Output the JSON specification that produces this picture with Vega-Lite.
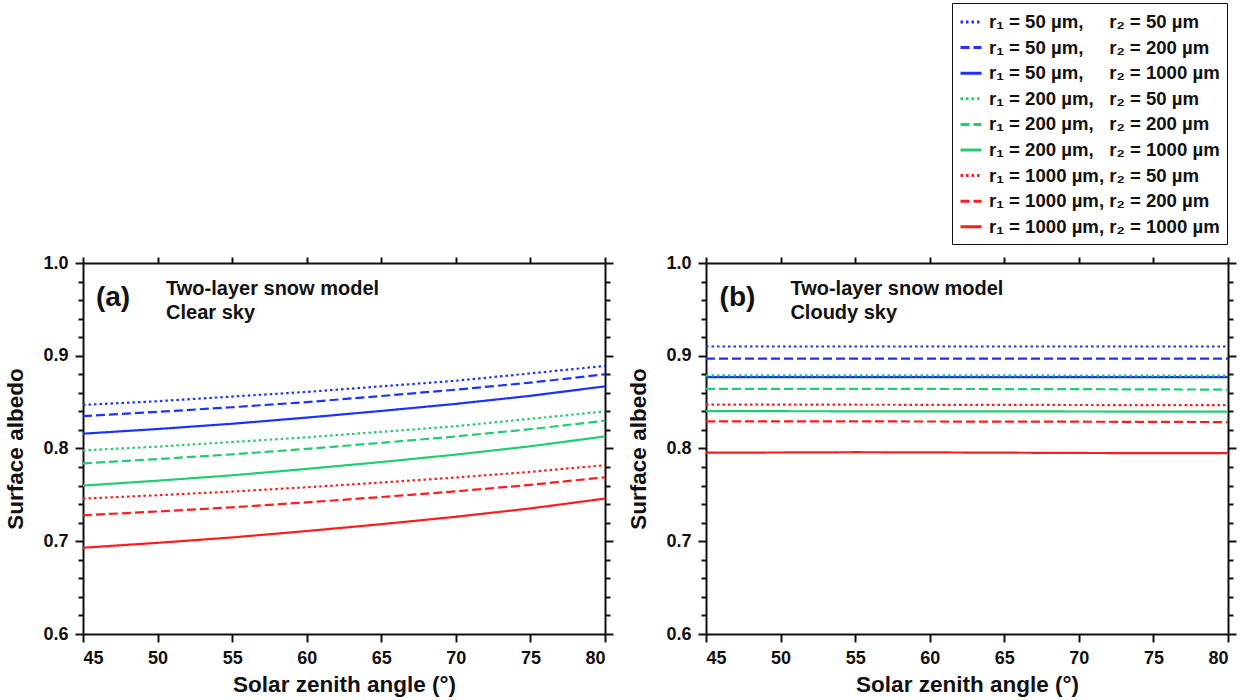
{
  "$schema": "https://vega.github.io/schema/vega-lite/v6.json",
  "padding": {"left": 4, "top": 2, "right": 3, "bottom": 4},
  "background": "white",
  "config": {
    "font": "Liberation Sans",
    "view": {"stroke": null},
    "axis": {
      "grid": false,
      "domainColor": "#111",
      "domainWidth": 2,
      "tickColor": "#111",
      "tickWidth": 2,
      "labelColor": "#111",
      "titleColor": "#111",
      "labelFont": "Liberation Sans",
      "titleFont": "Liberation Sans",
      "labelFontSize": 18,
      "labelFontWeight": "bold",
      "titleFontSize": 22.5,
      "titleFontWeight": "bold"
    },
    "legend": {
      "labelFont": "Liberation Sans"
    }
  },
  "datasets": {
    "series": [
      {"k": "s1", "label": "r₁ = 50 µm,\u00a0\u00a0\u00a0\u00a0\u00a0r₂ = 50 µm"},
      {"k": "s2", "label": "r₁ = 50 µm,\u00a0\u00a0\u00a0\u00a0\u00a0r₂ = 200 µm"},
      {"k": "s3", "label": "r₁ = 50 µm,\u00a0\u00a0\u00a0\u00a0\u00a0r₂ = 1000 µm"},
      {"k": "s4", "label": "r₁ = 200 µm,\u00a0\u00a0\u00a0r₂ = 50 µm"},
      {"k": "s5", "label": "r₁ = 200 µm,\u00a0\u00a0\u00a0r₂ = 200 µm"},
      {"k": "s6", "label": "r₁ = 200 µm,\u00a0\u00a0\u00a0r₂ = 1000 µm"},
      {"k": "s7", "label": "r₁ = 1000 µm,\u00a0r₂ = 50 µm"},
      {"k": "s8", "label": "r₁ = 1000 µm,\u00a0r₂ = 200 µm"},
      {"k": "s9", "label": "r₁ = 1000 µm,\u00a0r₂ = 1000 µm"}
    ],
    "notes": [
      {"p": "a", "kind": "tag", "x": 45.87, "y": 0.9623, "t": "(a)"},
      {"p": "a", "kind": "line", "x": 50.57, "y": 0.972, "t": "Two-layer snow model"},
      {"p": "a", "kind": "line", "x": 50.57, "y": 0.9461, "t": "Clear sky"},
      {"p": "b", "kind": "tag", "x": 45.91, "y": 0.9623, "t": "(b)"},
      {"p": "b", "kind": "line", "x": 50.66, "y": 0.972, "t": "Two-layer snow model"},
      {"p": "b", "kind": "line", "x": 50.66, "y": 0.9461, "t": "Cloudy sky"}
    ],
    "curves": [
      {"p": "a", "k": "s1", "x": 45, "y": 0.847}, {"p": "a", "k": "s1", "x": 50, "y": 0.851}, {"p": "a", "k": "s1", "x": 55, "y": 0.856}, {"p": "a", "k": "s1", "x": 60, "y": 0.861}, {"p": "a", "k": "s1", "x": 65, "y": 0.867}, {"p": "a", "k": "s1", "x": 70, "y": 0.873}, {"p": "a", "k": "s1", "x": 75, "y": 0.881}, {"p": "a", "k": "s1", "x": 80, "y": 0.889},
      {"p": "a", "k": "s2", "x": 45, "y": 0.835}, {"p": "a", "k": "s2", "x": 50, "y": 0.8395}, {"p": "a", "k": "s2", "x": 55, "y": 0.8445}, {"p": "a", "k": "s2", "x": 60, "y": 0.850}, {"p": "a", "k": "s2", "x": 65, "y": 0.8566}, {"p": "a", "k": "s2", "x": 70, "y": 0.8634}, {"p": "a", "k": "s2", "x": 75, "y": 0.871}, {"p": "a", "k": "s2", "x": 80, "y": 0.880},
      {"p": "a", "k": "s3", "x": 45, "y": 0.816}, {"p": "a", "k": "s3", "x": 50, "y": 0.821}, {"p": "a", "k": "s3", "x": 55, "y": 0.8267}, {"p": "a", "k": "s3", "x": 60, "y": 0.8333}, {"p": "a", "k": "s3", "x": 65, "y": 0.8405}, {"p": "a", "k": "s3", "x": 70, "y": 0.8481}, {"p": "a", "k": "s3", "x": 75, "y": 0.8568}, {"p": "a", "k": "s3", "x": 80, "y": 0.867},
      {"p": "a", "k": "s4", "x": 45, "y": 0.798}, {"p": "a", "k": "s4", "x": 50, "y": 0.802}, {"p": "a", "k": "s4", "x": 55, "y": 0.807}, {"p": "a", "k": "s4", "x": 60, "y": 0.812}, {"p": "a", "k": "s4", "x": 65, "y": 0.818}, {"p": "a", "k": "s4", "x": 70, "y": 0.824}, {"p": "a", "k": "s4", "x": 75, "y": 0.832}, {"p": "a", "k": "s4", "x": 80, "y": 0.840},
      {"p": "a", "k": "s5", "x": 45, "y": 0.784}, {"p": "a", "k": "s5", "x": 50, "y": 0.7886}, {"p": "a", "k": "s5", "x": 55, "y": 0.7937}, {"p": "a", "k": "s5", "x": 60, "y": 0.7996}, {"p": "a", "k": "s5", "x": 65, "y": 0.8061}, {"p": "a", "k": "s5", "x": 70, "y": 0.813}, {"p": "a", "k": "s5", "x": 75, "y": 0.8208}, {"p": "a", "k": "s5", "x": 80, "y": 0.830},
      {"p": "a", "k": "s6", "x": 45, "y": 0.760}, {"p": "a", "k": "s6", "x": 50, "y": 0.7653}, {"p": "a", "k": "s6", "x": 55, "y": 0.7711}, {"p": "a", "k": "s6", "x": 60, "y": 0.778}, {"p": "a", "k": "s6", "x": 65, "y": 0.7854}, {"p": "a", "k": "s6", "x": 70, "y": 0.7934}, {"p": "a", "k": "s6", "x": 75, "y": 0.8024}, {"p": "a", "k": "s6", "x": 80, "y": 0.813},
      {"p": "a", "k": "s7", "x": 45, "y": 0.746}, {"p": "a", "k": "s7", "x": 50, "y": 0.7496}, {"p": "a", "k": "s7", "x": 55, "y": 0.7536}, {"p": "a", "k": "s7", "x": 60, "y": 0.7582}, {"p": "a", "k": "s7", "x": 65, "y": 0.7633}, {"p": "a", "k": "s7", "x": 70, "y": 0.7687}, {"p": "a", "k": "s7", "x": 75, "y": 0.7748}, {"p": "a", "k": "s7", "x": 80, "y": 0.782},
      {"p": "a", "k": "s8", "x": 45, "y": 0.728}, {"p": "a", "k": "s8", "x": 50, "y": 0.7321}, {"p": "a", "k": "s8", "x": 55, "y": 0.7366}, {"p": "a", "k": "s8", "x": 60, "y": 0.7419}, {"p": "a", "k": "s8", "x": 65, "y": 0.7477}, {"p": "a", "k": "s8", "x": 70, "y": 0.7538}, {"p": "a", "k": "s8", "x": 75, "y": 0.7608}, {"p": "a", "k": "s8", "x": 80, "y": 0.769},
      {"p": "a", "k": "s9", "x": 45, "y": 0.693}, {"p": "a", "k": "s9", "x": 50, "y": 0.6983}, {"p": "a", "k": "s9", "x": 55, "y": 0.7041}, {"p": "a", "k": "s9", "x": 60, "y": 0.711}, {"p": "a", "k": "s9", "x": 65, "y": 0.7184}, {"p": "a", "k": "s9", "x": 70, "y": 0.7264}, {"p": "a", "k": "s9", "x": 75, "y": 0.7354}, {"p": "a", "k": "s9", "x": 80, "y": 0.746},
      {"p": "b", "k": "s1", "x": 45, "y": 0.910}, {"p": "b", "k": "s1", "x": 50, "y": 0.910}, {"p": "b", "k": "s1", "x": 55, "y": 0.910}, {"p": "b", "k": "s1", "x": 60, "y": 0.910}, {"p": "b", "k": "s1", "x": 65, "y": 0.910}, {"p": "b", "k": "s1", "x": 70, "y": 0.910}, {"p": "b", "k": "s1", "x": 75, "y": 0.910}, {"p": "b", "k": "s1", "x": 80, "y": 0.910},
      {"p": "b", "k": "s2", "x": 45, "y": 0.897}, {"p": "b", "k": "s2", "x": 50, "y": 0.897}, {"p": "b", "k": "s2", "x": 55, "y": 0.897}, {"p": "b", "k": "s2", "x": 60, "y": 0.897}, {"p": "b", "k": "s2", "x": 65, "y": 0.897}, {"p": "b", "k": "s2", "x": 70, "y": 0.897}, {"p": "b", "k": "s2", "x": 75, "y": 0.897}, {"p": "b", "k": "s2", "x": 80, "y": 0.897},
      {"p": "b", "k": "s3", "x": 45, "y": 0.877}, {"p": "b", "k": "s3", "x": 50, "y": 0.877}, {"p": "b", "k": "s3", "x": 55, "y": 0.877}, {"p": "b", "k": "s3", "x": 60, "y": 0.877}, {"p": "b", "k": "s3", "x": 65, "y": 0.877}, {"p": "b", "k": "s3", "x": 70, "y": 0.877}, {"p": "b", "k": "s3", "x": 75, "y": 0.877}, {"p": "b", "k": "s3", "x": 80, "y": 0.877},
      {"p": "b", "k": "s4", "x": 45, "y": 0.8788}, {"p": "b", "k": "s4", "x": 50, "y": 0.8788}, {"p": "b", "k": "s4", "x": 55, "y": 0.8788}, {"p": "b", "k": "s4", "x": 60, "y": 0.8788}, {"p": "b", "k": "s4", "x": 65, "y": 0.8788}, {"p": "b", "k": "s4", "x": 70, "y": 0.8787}, {"p": "b", "k": "s4", "x": 75, "y": 0.8786}, {"p": "b", "k": "s4", "x": 80, "y": 0.8785},
      {"p": "b", "k": "s5", "x": 45, "y": 0.8643}, {"p": "b", "k": "s5", "x": 50, "y": 0.8643}, {"p": "b", "k": "s5", "x": 55, "y": 0.8643}, {"p": "b", "k": "s5", "x": 60, "y": 0.8642}, {"p": "b", "k": "s5", "x": 65, "y": 0.8641}, {"p": "b", "k": "s5", "x": 70, "y": 0.864}, {"p": "b", "k": "s5", "x": 75, "y": 0.8637}, {"p": "b", "k": "s5", "x": 80, "y": 0.8635},
      {"p": "b", "k": "s6", "x": 45, "y": 0.8402}, {"p": "b", "k": "s6", "x": 50, "y": 0.8402}, {"p": "b", "k": "s6", "x": 55, "y": 0.8401}, {"p": "b", "k": "s6", "x": 60, "y": 0.8401}, {"p": "b", "k": "s6", "x": 65, "y": 0.84}, {"p": "b", "k": "s6", "x": 70, "y": 0.8399}, {"p": "b", "k": "s6", "x": 75, "y": 0.8398}, {"p": "b", "k": "s6", "x": 80, "y": 0.8397},
      {"p": "b", "k": "s7", "x": 45, "y": 0.8472}, {"p": "b", "k": "s7", "x": 50, "y": 0.8472}, {"p": "b", "k": "s7", "x": 55, "y": 0.8472}, {"p": "b", "k": "s7", "x": 60, "y": 0.8471}, {"p": "b", "k": "s7", "x": 65, "y": 0.847}, {"p": "b", "k": "s7", "x": 70, "y": 0.8469}, {"p": "b", "k": "s7", "x": 75, "y": 0.8468}, {"p": "b", "k": "s7", "x": 80, "y": 0.8467},
      {"p": "b", "k": "s8", "x": 45, "y": 0.8292}, {"p": "b", "k": "s8", "x": 50, "y": 0.8292}, {"p": "b", "k": "s8", "x": 55, "y": 0.8292}, {"p": "b", "k": "s8", "x": 60, "y": 0.8291}, {"p": "b", "k": "s8", "x": 65, "y": 0.829}, {"p": "b", "k": "s8", "x": 70, "y": 0.8289}, {"p": "b", "k": "s8", "x": 75, "y": 0.8287}, {"p": "b", "k": "s8", "x": 80, "y": 0.8285},
      {"p": "b", "k": "s9", "x": 45, "y": 0.7955}, {"p": "b", "k": "s9", "x": 50, "y": 0.7957}, {"p": "b", "k": "s9", "x": 55, "y": 0.796}, {"p": "b", "k": "s9", "x": 60, "y": 0.7958}, {"p": "b", "k": "s9", "x": 65, "y": 0.7955}, {"p": "b", "k": "s9", "x": 70, "y": 0.7952}, {"p": "b", "k": "s9", "x": 75, "y": 0.795}, {"p": "b", "k": "s9", "x": 80, "y": 0.795}
    ]
  },
  "spacing": 13,
  "resolve": {"scale": {"color": "shared", "strokeDash": "shared"}, "legend": {"color": "shared", "strokeDash": "shared"}},
  "hconcat": [
    {
      "width": 522,
      "height": 371,
      "layer": [
        {
          "data": {"name": "curves"},
          "transform": [
            {"filter": "datum.p == 'a'"},
            {"lookup": "k", "from": {"data": {"name": "series"}, "key": "k", "fields": ["label"]}}
          ],
          "layer": [
            {
              "mark": {"type": "line", "strokeWidth": 2.2},
              "encoding": {
                "x": {"field": "x", "type": "quantitative", "scale": {"domain": [45, 80], "nice": false, "zero": false},
                      "axis": {"orient": "bottom", "values": [45, 50, 55, 60, 65, 70, 75, 80], "title": "Solar zenith angle (°)", "tickSize": 8, "labelPadding": 7, "titlePadding": 6}},
                "y": {"field": "y", "type": "quantitative", "scale": {"domain": [0.6, 1.0], "nice": false, "zero": false},
                      "axis": {"orient": "left", "values": [0.6, 0.7, 0.8, 0.9, 1.0], "format": ".1f", "title": "Surface albedo", "tickSize": 8, "labelPadding": 7, "titlePadding": 15}},
                "color": {"field": "label", "type": "nominal",
                          "scale": {"domain": ["r₁ = 50 µm,\u00a0\u00a0\u00a0\u00a0\u00a0r₂ = 50 µm", "r₁ = 50 µm,\u00a0\u00a0\u00a0\u00a0\u00a0r₂ = 200 µm", "r₁ = 50 µm,\u00a0\u00a0\u00a0\u00a0\u00a0r₂ = 1000 µm", "r₁ = 200 µm,\u00a0\u00a0\u00a0r₂ = 50 µm", "r₁ = 200 µm,\u00a0\u00a0\u00a0r₂ = 200 µm", "r₁ = 200 µm,\u00a0\u00a0\u00a0r₂ = 1000 µm", "r₁ = 1000 µm,\u00a0r₂ = 50 µm", "r₁ = 1000 µm,\u00a0r₂ = 200 µm", "r₁ = 1000 µm,\u00a0r₂ = 1000 µm"],
                                    "range": ["#1a33ff", "#1a33ff", "#1a33ff", "#22cc70", "#22cc70", "#22cc70", "#ff1c1c", "#ff1c1c", "#ff1c1c"]},
                          "legend": {"orient": "none", "legendX": 869, "legendY": -260, "title": null, "symbolType": "stroke", "symbolStrokeWidth": 3, "symbolSize": 441, "labelFontSize": 18.6, "labelFontWeight": "bold", "labelColor": "#111", "labelLimit": 400, "rowPadding": 3.6, "padding": 7, "strokeColor": "#111", "fillColor": "white", "labelOffset": 6}},
                "strokeDash": {"field": "label", "type": "nominal",
                          "scale": {"domain": ["r₁ = 50 µm,\u00a0\u00a0\u00a0\u00a0\u00a0r₂ = 50 µm", "r₁ = 50 µm,\u00a0\u00a0\u00a0\u00a0\u00a0r₂ = 200 µm", "r₁ = 50 µm,\u00a0\u00a0\u00a0\u00a0\u00a0r₂ = 1000 µm", "r₁ = 200 µm,\u00a0\u00a0\u00a0r₂ = 50 µm", "r₁ = 200 µm,\u00a0\u00a0\u00a0r₂ = 200 µm", "r₁ = 200 µm,\u00a0\u00a0\u00a0r₂ = 1000 µm", "r₁ = 1000 µm,\u00a0r₂ = 50 µm", "r₁ = 1000 µm,\u00a0r₂ = 200 µm", "r₁ = 1000 µm,\u00a0r₂ = 1000 µm"],
                                    "range": [[2.5, 3], [9, 4], [1, 0], [2.5, 3], [9, 4], [1, 0], [2.5, 3], [9, 4], [1, 0]]},
                          "legend": {"orient": "none", "legendX": 869, "legendY": -260, "title": null, "symbolType": "stroke", "symbolStrokeWidth": 3, "symbolSize": 441, "labelFontSize": 18.6, "labelFontWeight": "bold", "labelColor": "#111", "labelLimit": 400, "rowPadding": 3.6, "padding": 7, "strokeColor": "#111", "fillColor": "white", "labelOffset": 6}}
              }
            },
            {
              "mark": {"type": "line", "opacity": 0},
              "encoding": {
                "detail": {"field": "k"},
                "x": {"field": "x", "type": "quantitative", "axis": {"orient": "top", "values": [45, 50, 55, 60, 65, 70, 75, 80], "labels": false, "title": null, "tickSize": 6}},
                "y": {"field": "y", "type": "quantitative", "axis": {"orient": "left", "values": [0.62, 0.64, 0.66, 0.68, 0.72, 0.74, 0.76, 0.78, 0.82, 0.84, 0.86, 0.88, 0.92, 0.94, 0.96, 0.98], "labels": false, "title": null, "domain": false, "tickSize": 5}}
              }
            },
            {
              "mark": {"type": "line", "opacity": 0},
              "encoding": {
                "detail": {"field": "k"},
                "x": {"field": "x", "type": "quantitative", "axis": null},
                "y": {"field": "y", "type": "quantitative", "axis": {"orient": "right", "values": [0.6, 0.7, 0.8, 0.9, 1.0], "labels": false, "title": null, "tickSize": 8}}
              }
            },
            {
              "mark": {"type": "line", "opacity": 0},
              "encoding": {
                "detail": {"field": "k"},
                "x": {"field": "x", "type": "quantitative", "axis": null},
                "y": {"field": "y", "type": "quantitative", "axis": {"orient": "right", "values": [0.62, 0.64, 0.66, 0.68, 0.72, 0.74, 0.76, 0.78, 0.82, 0.84, 0.86, 0.88, 0.92, 0.94, 0.96, 0.98], "labels": false, "title": null, "domain": false, "tickSize": 5}}
              }
            }
          ],
          "resolve": {"axis": {"x": "independent", "y": "independent"}}
        },
        {
          "data": {"name": "notes"},
          "transform": [{"filter": "datum.p == 'a' && datum.kind == 'tag'"}],
          "mark": {"type": "text", "align": "left", "baseline": "middle", "fontSize": 28, "fontWeight": "bold", "color": "#111"},
          "encoding": {
            "x": {"field": "x", "type": "quantitative", "axis": null},
            "y": {"field": "y", "type": "quantitative", "axis": null},
            "text": {"field": "t"}
          }
        },
        {
          "data": {"name": "notes"},
          "transform": [{"filter": "datum.p == 'a' && datum.kind == 'line'"}],
          "mark": {"type": "text", "align": "left", "baseline": "middle", "fontSize": 20, "fontWeight": "bold", "color": "#111"},
          "encoding": {
            "x": {"field": "x", "type": "quantitative", "axis": null},
            "y": {"field": "y", "type": "quantitative", "axis": null},
            "text": {"field": "t"}
          }
        }
      ],
      "resolve": {"axis": {"x": "independent", "y": "independent"}}
    },
    {
      "width": 522,
      "height": 371,
      "layer": [
        {
          "data": {"name": "curves"},
          "transform": [
            {"filter": "datum.p == 'b'"},
            {"lookup": "k", "from": {"data": {"name": "series"}, "key": "k", "fields": ["label"]}}
          ],
          "layer": [
            {
              "mark": {"type": "line", "strokeWidth": 2.2},
              "encoding": {
                "x": {"field": "x", "type": "quantitative", "scale": {"domain": [45, 80], "nice": false, "zero": false},
                      "axis": {"orient": "bottom", "values": [45, 50, 55, 60, 65, 70, 75, 80], "title": "Solar zenith angle (°)", "tickSize": 8, "labelPadding": 7, "titlePadding": 6}},
                "y": {"field": "y", "type": "quantitative", "scale": {"domain": [0.6, 1.0], "nice": false, "zero": false},
                      "axis": {"orient": "left", "values": [0.6, 0.7, 0.8, 0.9, 1.0], "format": ".1f", "title": "Surface albedo", "tickSize": 8, "labelPadding": 7, "titlePadding": 15}},
                "color": {"field": "label", "type": "nominal"},
                "strokeDash": {"field": "label", "type": "nominal"}
              }
            },
            {
              "mark": {"type": "line", "opacity": 0},
              "encoding": {
                "detail": {"field": "k"},
                "x": {"field": "x", "type": "quantitative", "axis": {"orient": "top", "values": [45, 50, 55, 60, 65, 70, 75, 80], "labels": false, "title": null, "tickSize": 6}},
                "y": {"field": "y", "type": "quantitative", "axis": {"orient": "left", "values": [0.62, 0.64, 0.66, 0.68, 0.72, 0.74, 0.76, 0.78, 0.82, 0.84, 0.86, 0.88, 0.92, 0.94, 0.96, 0.98], "labels": false, "title": null, "domain": false, "tickSize": 5}}
              }
            },
            {
              "mark": {"type": "line", "opacity": 0},
              "encoding": {
                "detail": {"field": "k"},
                "x": {"field": "x", "type": "quantitative", "axis": null},
                "y": {"field": "y", "type": "quantitative", "axis": {"orient": "right", "values": [0.6, 0.7, 0.8, 0.9, 1.0], "labels": false, "title": null, "tickSize": 8}}
              }
            },
            {
              "mark": {"type": "line", "opacity": 0},
              "encoding": {
                "detail": {"field": "k"},
                "x": {"field": "x", "type": "quantitative", "axis": null},
                "y": {"field": "y", "type": "quantitative", "axis": {"orient": "right", "values": [0.62, 0.64, 0.66, 0.68, 0.72, 0.74, 0.76, 0.78, 0.82, 0.84, 0.86, 0.88, 0.92, 0.94, 0.96, 0.98], "labels": false, "title": null, "domain": false, "tickSize": 5}}
              }
            }
          ],
          "resolve": {"axis": {"x": "independent", "y": "independent"}}
        },
        {
          "data": {"name": "notes"},
          "transform": [{"filter": "datum.p == 'b' && datum.kind == 'tag'"}],
          "mark": {"type": "text", "align": "left", "baseline": "middle", "fontSize": 28, "fontWeight": "bold", "color": "#111"},
          "encoding": {
            "x": {"field": "x", "type": "quantitative", "axis": null},
            "y": {"field": "y", "type": "quantitative", "axis": null},
            "text": {"field": "t"}
          }
        },
        {
          "data": {"name": "notes"},
          "transform": [{"filter": "datum.p == 'b' && datum.kind == 'line'"}],
          "mark": {"type": "text", "align": "left", "baseline": "middle", "fontSize": 20, "fontWeight": "bold", "color": "#111"},
          "encoding": {
            "x": {"field": "x", "type": "quantitative", "axis": null},
            "y": {"field": "y", "type": "quantitative", "axis": null},
            "text": {"field": "t"}
          }
        }
      ],
      "resolve": {"axis": {"x": "independent", "y": "independent"}}
    }
  ]
}
